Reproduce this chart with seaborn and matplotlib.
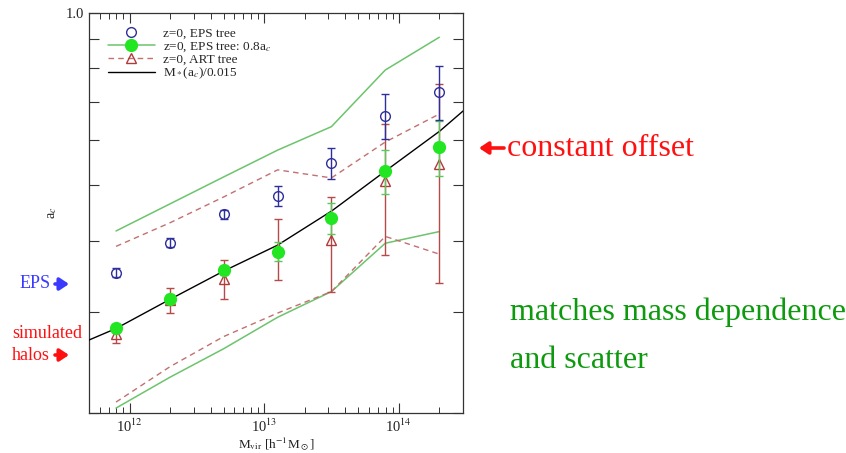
import numpy as np
import matplotlib
matplotlib.use("Agg")
import matplotlib.pyplot as plt
from matplotlib.lines import Line2D
from matplotlib.ticker import FixedLocator, FuncFormatter, NullLocator, LogLocator, NullFormatter
import seaborn as sns

# halo masses of the binned points [h^-1 Msun]
mass = [7.94e11, 2.0e12, 5.0e12, 1.26e13, 3.16e13, 7.94e13, 2.0e14]

# EPS merger trees
ac_eps = [0.352, 0.397, 0.445, 0.479, 0.546, 0.662, 0.729]
ac_eps_err = [0.006, 0.007, 0.008, 0.019, 0.034, 0.059, 0.080]

# EPS trees with a_c rescaled by 0.8, plus the scatter envelope
ac_eps08 = [0.281, 0.317, 0.355, 0.383, 0.438, 0.529, 0.583]
ac_eps08_err = [0.005, 0.006, 0.006, 0.015, 0.027, 0.047, 0.064]
ac_eps08_hi = [0.416, 0.464, 0.517, 0.576, 0.633, 0.795, 0.907]
ac_eps08_lo = [0.204, 0.231, 0.259, 0.294, 0.326, 0.396, 0.415]

# simulated (ART) halos, plus the scatter envelope
ac_art = [0.275, 0.315, 0.343, 0.389, 0.401, 0.509, 0.545]
ac_art_err = [0.010, 0.016, 0.027, 0.047, 0.076, 0.131, 0.207]
ac_art_hi = [0.391, 0.430, 0.477, 0.532, 0.515, 0.595, 0.666]
ac_art_lo = [0.209, 0.241, 0.272, 0.299, 0.326, 0.407, 0.379]

# M_*(a_c)/0.015 relation
curve_mass = [4.95e11, 7.94e11, 2.0e12, 5.0e12, 1.26e13, 3.18e13, 8.0e13, 2.02e14, 3.0e14]
curve_ac = [0.268, 0.281, 0.316, 0.354, 0.393, 0.451, 0.530, 0.622, 0.674]

y_ticks = [0.2, 0.3, 0.4, 0.5, 0.6, 0.7, 0.8, 0.9, 1.0]

NAVY = "#2e2e9c"
GREEN_PT = "#22e622"
GREEN_LN = "#6cc46c"
GREEN_ERR = "#5ac85a"
RED_PT = "#b23a3a"
RED_ERR = "#b64a4a"
RED_LN = "#c27070"

sns.set_theme(style="ticks")
plt.rcParams["font.family"] = ["Liberation Serif", "DejaVu Serif"]
plt.rcParams["mathtext.fontset"] = "stix"

W, H = 846, 453
fig = plt.figure(figsize=(W / 100, H / 100), dpi=100)
ax = fig.add_axes([89 / W, 1 - 413 / H, 374 / W, 400 / H])
ax.set_xscale("log")
ax.set_yscale("log")

# scatter envelopes
sns.lineplot(x=mass, y=ac_eps08_hi, ax=ax, color=GREEN_LN, lw=1.1,
             estimator=None, sort=False, legend=False, zorder=2)
sns.lineplot(x=mass, y=ac_eps08_lo, ax=ax, color=GREEN_LN, lw=1.1,
             estimator=None, sort=False, legend=False, zorder=2)
sns.lineplot(x=mass, y=ac_art_hi, ax=ax, color=RED_LN, lw=1.0, linestyle=(0, (4, 3)),
             estimator=None, sort=False, legend=False, zorder=2)
sns.lineplot(x=mass, y=ac_art_lo, ax=ax, color=RED_LN, lw=1.0, linestyle=(0, (4, 3)),
             estimator=None, sort=False, legend=False, zorder=2)

# analytic relation
sns.lineplot(x=curve_mass, y=curve_ac, ax=ax, color="black", lw=1.0,
             estimator=None, sort=False, legend=False, zorder=3)

# binned medians with errors
ax.errorbar(mass, ac_art, yerr=ac_art_err, fmt="^", ms=7.5, mfc="none", mec=RED_PT,
            mew=1.0, ecolor=RED_ERR, elinewidth=1.0, capsize=3, capthick=1.0, zorder=3)
ax.errorbar(mass, ac_eps08, yerr=ac_eps08_err, fmt="o", ms=8.5, mfc=GREEN_PT, mec=GREEN_PT,
            ecolor=GREEN_ERR, elinewidth=1.0, capsize=3, capthick=1.0, zorder=5)
ax.errorbar(mass, ac_eps, yerr=ac_eps_err, fmt="o", ms=7, mfc="none", mec=NAVY,
            mew=1.0, ecolor=NAVY, elinewidth=1.0, capsize=3, capthick=1.0, zorder=6)

ax.set_xlim(5e11, 3e14)
ax.set_ylim(0.2, 1.0)

ax.xaxis.set_major_locator(LogLocator(base=10))
ax.xaxis.set_minor_locator(LogLocator(base=10, subs=np.arange(2, 10)))
ax.xaxis.set_minor_formatter(NullFormatter())
ax.xaxis.set_major_formatter(FuncFormatter(lambda v, p: "10$^{%d}$" % int(round(np.log10(v)))))
ax.yaxis.set_major_locator(FixedLocator(y_ticks))
ax.yaxis.set_minor_locator(NullLocator())
ax.yaxis.set_major_formatter(FuncFormatter(lambda v, p: "1.0" if abs(v - 1.0) < 1e-6 else ""))

ax.tick_params(which="both", direction="in", top=True, right=True, colors="#333333")
ax.tick_params(which="major", length=7, width=0.8, labelsize=10.5, pad=3.5, labelcolor="#222222")
ax.tick_params(which="minor", length=4, width=0.7)
for s in ax.spines.values():
    s.set_color("#333333")
    s.set_linewidth(0.9)

ax.set_xlabel(r"M$_{\rm vir}$ [h$^{-1}$M$_\odot$]", fontsize=9.5, color="#222222")
ax.xaxis.set_label_coords(0.5, -0.055)
ax.set_ylabel(r"a$_c$", fontsize=10, color="#222222")
ax.yaxis.set_label_coords(-0.08, 0.5)

handles = [
    Line2D([], [], ls="none", marker="o", ms=7, mfc="none", mec=NAVY, mew=1.0),
    Line2D([], [], color=GREEN_LN, lw=1.1, marker="o", ms=8.5, mfc=GREEN_PT, mec=GREEN_PT),
    Line2D([], [], color=RED_LN, lw=1.0, ls=(0, (4, 3)), marker="^", ms=7.5, mfc="none", mec=RED_PT),
    Line2D([], [], color="black", lw=1.0),
]
labels = ["z=0, EPS tree", "z=0, EPS tree: 0.8a$_c$", "z=0, ART tree", "M$_*$(a$_c$)/0.015"]
ax.legend(handles, labels, loc="upper left", bbox_to_anchor=(0.05, 0.963), frameon=False,
          fontsize=9.5, handlelength=3.6, handletextpad=0.6, labelspacing=0.0,
          borderpad=0, borderaxespad=0)


def fpos(px, py):
    return (px / W, 1 - py / H)


def arrow(x0, x1, y, color):
    ax.annotate("", xy=fpos(x1, y), xytext=fpos(x0, y), xycoords="figure fraction",
                textcoords="figure fraction",
                arrowprops=dict(arrowstyle="-|>,head_width=0.3,head_length=0.45",
                                lw=2.6, color=color, shrinkA=0, shrinkB=0),
                annotation_clip=False)


RED = "#ff1010"
BLUE = "#3a3aff"
DGREEN = "#0e9a0e"

fig.text(*fpos(507, 156), "constant offset", color=RED, fontsize=23, va="baseline", ha="left")
arrow(504, 479, 148, RED)
fig.text(*fpos(510, 320), "matches mass dependence", color=DGREEN, fontsize=23, va="baseline", ha="left")
fig.text(*fpos(510, 368), "and scatter", color=DGREEN, fontsize=23, va="baseline", ha="left")

fig.text(*fpos(20, 288), "EPS", color=BLUE, fontsize=13, va="baseline", ha="left")
arrow(55, 69, 284, BLUE)
fig.text(*fpos(12, 338), "simulated", color=RED, fontsize=13, va="baseline", ha="left")
fig.text(*fpos(12, 360), "halos", color=RED, fontsize=13, va="baseline", ha="left")
arrow(55, 69, 355, RED)

fig.savefig("out.png", dpi=100, facecolor="white")
